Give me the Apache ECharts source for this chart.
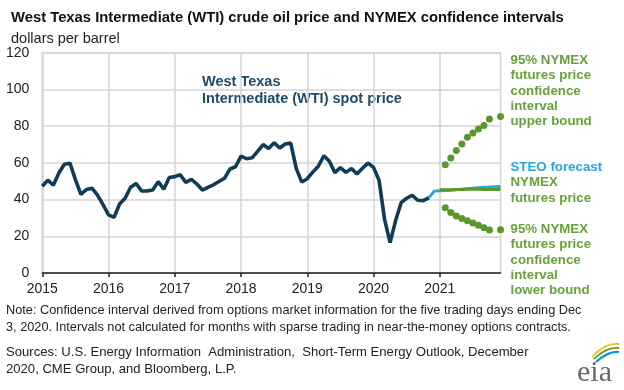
<!DOCTYPE html>
<html><head><meta charset="utf-8">
<script src="https://cdn.jsdelivr.net/npm/echarts@6/dist/echarts.min.js"></script>
<style>html,body{margin:0;padding:0;background:#fff}#c{width:624px;height:390px}</style>
</head><body><div id="c"></div>
<script>
// ---- data ----
const years = ['2015','2016','2017','2018','2019','2020','2021'];
const yTicks = [0, 20, 40, 60, 80, 100, 120];
// WTI monthly spot price, Jan 2015 - Nov 2020
const wtiSpot = [
  47.22, 50.58, 47.82, 54.45, 59.27, 59.82, 50.90, 42.87, 45.48, 46.22, 42.44, 37.19,
  31.68, 30.32, 37.55, 40.75, 46.71, 48.76, 44.65, 44.72, 45.18, 49.78, 45.66, 51.97,
  52.50, 53.47, 49.33, 51.06, 48.48, 45.18, 46.63, 48.04, 49.82, 51.58, 56.64, 57.88,
  63.70, 62.23, 62.73, 66.25, 69.98, 67.87, 70.98, 68.06, 70.23, 70.75, 56.96, 49.52,
  51.38, 54.95, 58.15, 63.86, 60.83, 54.66, 57.35, 54.81, 56.95, 53.96, 57.03, 59.88,
  57.52, 50.54, 29.21, 16.55, 28.56, 38.31, 40.71, 42.34, 39.63, 39.40, 40.94
];
// STEO forecast, Nov 2020 - Dec 2021
const steoForecast = [40.94, 44.6, 44.8, 45.0, 45.1, 45.3, 45.6, 45.9, 46.2, 46.5, 46.7, 46.8, 47.0, 47.1];
// NYMEX futures price, Jan 2021 - Dec 2021
const nymexFutures = [45.3, 45.4, 45.4, 45.5, 45.5, 45.6, 45.6, 45.6, 45.5, 45.5, 45.5, 45.5];
// 95% confidence interval bounds, Jan 2021 - Dec 2021 (null = not calculated)
const upperBound = [null, 58.9, 62.7, 66.7, 70.3, 73.9, 76.3, 78.5, 80.3, 83.9, null, 85.3];
const lowerBound = [null, 35.6, 32.9, 31.1, 29.7, 28.4, 27.3, 26.0, 24.6, 23.4, null, 23.6];

// ---- build month categories ----
const months = [];
years.forEach(y => { for (let m = 1; m <= 12; m++) months.push(y + '-' + String(m).padStart(2, '0')); });
const N = months.length;
function place(arr, startIdx) {
  const out = new Array(N).fill('-');
  arr.forEach((v, i) => { out[startIdx + i] = (v === null ? '-' : v); });
  return out;
}
const idx = s => months.indexOf(s);
const wtiData = place(wtiSpot, 0);
const steoData = place(steoForecast, idx('2020-11'));
const futData = place(nymexFutures, idx('2021-01'));
const upData = place(upperBound, idx('2021-01'));
const loData = place(lowerBound, idx('2021-01'));

const FONT = '"Liberation Sans", Arial, sans-serif';
const DARK = '#0f3c58';
const BLUE = '#2aa6de';
const GREEN = '#5a982e';
const GTEXT = '#66a23a';
const GRID = '#d5d5d5';
const isYear = i => i % 12 === 0;

function t(x, y, text, font, fill) {
  return { type: 'text', x: x, y: y, style: { text: text, font: font, fill: fill, textVerticalAlign: 'middle', textAlign: 'left' } };
}

const chart = echarts.init(document.getElementById('c'), null, { renderer: 'canvas' });
const green13 = 'bold 13.3px ' + FONT;
chart.setOption({
  animation: false,
  backgroundColor: '#fff',
  grid: { left: 42.3, right: 123.5, top: 52.7, bottom: 117, show: true, borderColor: GRID, borderWidth: 1.5, backgroundColor: 'transparent' },
  xAxis: {
    type: 'category', data: months, boundaryGap: false,
    axisLine: { lineStyle: { color: '#222', width: 1.5 } },
    axisTick: { interval: isYear, length: 4, lineStyle: { color: '#222', width: 1.5 } },
    axisLabel: { interval: isYear, formatter: (v, i) => years[Math.floor(i / 12)], fontFamily: FONT, fontSize: 14, color: '#222', margin: 9 },
    splitLine: { show: true, interval: isYear, lineStyle: { color: GRID, width: 1.5 } }
  },
  yAxis: {
    type: 'value', min: yTicks[0], max: yTicks[yTicks.length - 1], interval: 20,
    axisLine: { show: false }, axisTick: { show: false },
    axisLabel: { fontFamily: FONT, fontSize: 14, color: '#222', margin: 13 },
    splitLine: { lineStyle: { color: GRID, width: 1.5 } }
  },
  series: [
    { type: 'line', data: steoData, showSymbol: false, lineStyle: { color: BLUE, width: 3 }, z: 2 },
    { type: 'line', data: futData, showSymbol: false, lineStyle: { color: GREEN, width: 3 }, z: 3 },
    { type: 'line', data: wtiData, showSymbol: false, lineStyle: { color: DARK, width: 3.6 }, z: 4 },
    { type: 'scatter', data: upData, symbolSize: 7, itemStyle: { color: GREEN, opacity: 1 }, z: 5 },
    { type: 'scatter', data: loData, symbolSize: 7, itemStyle: { color: GREEN, opacity: 1 }, z: 5 }
  ],
  graphic: [
    t(11, 18, 'West Texas Intermediate (WTI) crude oil price and NYMEX confidence intervals', 'bold 14.8px ' + FONT, '#111'),
    t(11, 38.5, 'dollars per barrel', '14.5px ' + FONT, '#222'),
    t(202, 82, 'West Texas', 'bold 14.5px ' + FONT, '#1d4a66'),
    t(202, 99.3, 'Intermediate (WTI) spot price', 'bold 14.5px ' + FONT, '#1d4a66'),
    t(510.5, 60.3, '95% NYMEX', green13, GTEXT),
    t(510.5, 75.6, 'futures price', green13, GTEXT),
    t(510.5, 90.9, 'confidence', green13, GTEXT),
    t(510.5, 106.2, 'interval', green13, GTEXT),
    t(510.5, 121.5, 'upper bound', green13, GTEXT),
    t(510.5, 167.3, 'STEO forecast', green13, BLUE),
    t(510.5, 182.6, 'NYMEX', green13, GTEXT),
    t(510.5, 197.9, 'futures price', green13, GTEXT),
    t(510.5, 229.3, '95% NYMEX', green13, GTEXT),
    t(510.5, 244.6, 'futures price', green13, GTEXT),
    t(510.5, 259.9, 'confidence', green13, GTEXT),
    t(510.5, 275.2, 'interval', green13, GTEXT),
    t(510.5, 290.5, 'lower bound', green13, GTEXT),
    t(6, 310.5, 'Note: Confidence interval derived from options market information for the five trading days ending Dec', '12.75px ' + FONT, '#222'),
    t(6, 327, '3, 2020. Intervals not calculated for months with sparse trading in near-the-money options contracts.', '12.75px ' + FONT, '#222'),
    t(6, 352, 'Sources: U.S. Energy Information  Administration,  Short-Term Energy Outlook, December', '13.1px ' + FONT, '#222'),
    t(6, 369, '2020, CME Group, and Bloomberg, L.P.', '13.1px ' + FONT, '#222'),
    // eia logo
    { type: 'text', x: 577, y: 373, style: { text: 'eia', font: '30px "Liberation Serif", serif', fill: '#6a6a6a', textVerticalAlign: 'middle', textAlign: 'left' } },
    { type: 'bezierCurve', shape: { x1: 592, y1: 357, x2: 619, y2: 344, cpx1: 601, cpy1: 347, cpx2: 611, cpy2: 343 }, style: { stroke: '#f2c200', lineWidth: 1.8, fill: null } },
    { type: 'bezierCurve', shape: { x1: 594, y1: 359, x2: 619, y2: 348, cpx1: 603, cpy1: 350, cpx2: 611, cpy2: 347 }, style: { stroke: '#5d9732', lineWidth: 1.8, fill: null } },
    { type: 'bezierCurve', shape: { x1: 596, y1: 362, x2: 619, y2: 352, cpx1: 605, cpy1: 354, cpx2: 612, cpy2: 351 }, style: { stroke: '#0096d7', lineWidth: 2.2, fill: null } }
  ]
});
</script></body></html>
